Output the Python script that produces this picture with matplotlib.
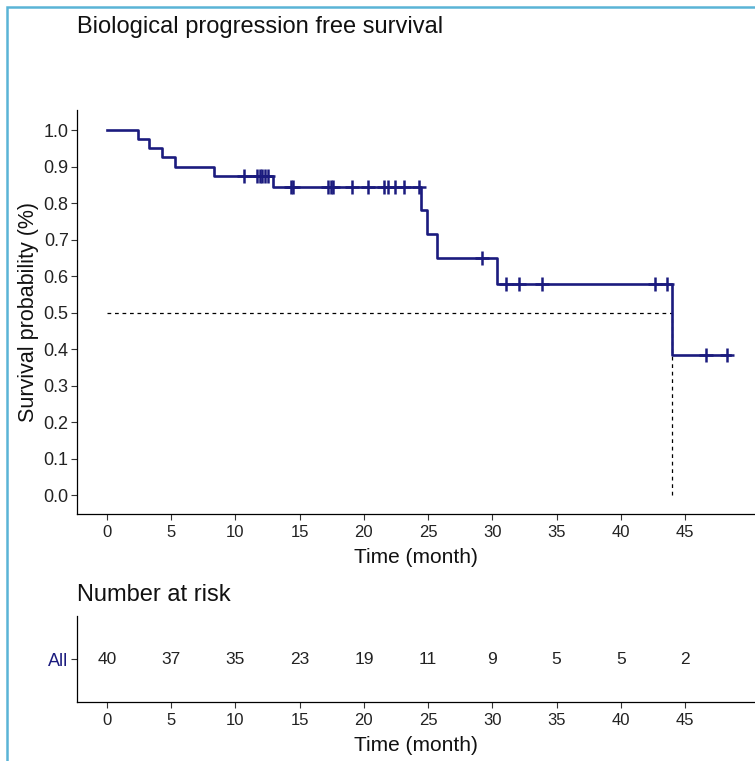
import numpy as np
import matplotlib.pyplot as plt
from matplotlib.patches import Rectangle

plt.rcParams['font.family'] = ['Liberation Sans', 'DejaVu Sans']

# step function of the KM curve (time in months, survival after the step)
step_times = [0, 2.4, 3.3, 4.3, 5.3, 8.3, 12.9, 24.45, 24.9, 25.7, 30.4, 44.0]
step_surv = [1.0, 0.975, 0.95, 0.925, 0.90, 0.875, 0.845, 0.78, 0.715, 0.65, 0.578, 0.385]
end_time = 48.5

# censored observations
censor_times = [10.7, 11.7, 11.9, 12.1, 12.3, 12.5, 14.3, 14.5,
                17.2, 17.4, 17.6, 19.1, 20.3, 21.6, 21.9, 22.4, 23.1, 24.3,
                29.2, 31.1, 32.1, 33.9, 42.7, 43.6, 46.6, 48.3]

median_time = 44.0

# number at risk table
risk_times = [0, 5, 10, 15, 20, 25, 30, 35, 40, 45]
risk_all = [40, 37, 35, 23, 19, 11, 9, 5, 5, 2]

navy = '#1b1b7e'
txt = '#222222'
W, H = 755, 761
fig = plt.figure(figsize=(W / 100, H / 100), dpi=100)

def fx(px):
    return px / W

def fy(py):
    return 1 - py / H

xlim = (-2.34, 50.45)

# main survival plot
ax = fig.add_axes([fx(77), fy(514), fx(755 - 77), fy(110) - fy(514)])
xs = list(step_times) + [end_time]
ys = list(step_surv) + [step_surv[-1]]
ax.step(xs, ys, where='post', color=navy, lw=1.9, zorder=3)
idx = np.searchsorted(step_times, censor_times, side='right') - 1
ax.plot(censor_times, np.array(step_surv)[idx], ls='none', marker='+',
        ms=10, mew=1.8, color=navy, zorder=4)
ax.plot([0, median_time], [0.5, 0.5], ls=(0, (3, 3)), color='black', lw=0.9)
ax.plot([median_time, median_time], [0, 0.5], ls=(0, (3, 3)), color='black', lw=0.9)

ax.set_xlim(*xlim)
ax.set_ylim(-0.052, 1.055)
ax.set_yticks(np.arange(0, 1.01, 0.1))
ax.set_yticklabels([f'{v:.1f}' for v in np.arange(0, 1.01, 0.1)])
ax.set_xticks(risk_times)
ax.set_xlabel('Time (month)', fontsize=15, labelpad=6, color='#111111')
ax.set_ylabel('Survival probability (%)', fontsize=15.5, labelpad=3, color='#111111')
ax.spines['top'].set_visible(False)
ax.spines['right'].set_visible(False)

# risk table
rt = fig.add_axes([fx(77), fy(702), fx(755 - 77), fy(616) - fy(702)])
for t, n in zip(risk_times, risk_all):
    rt.text(t, 1, str(n), ha='center', va='center', fontsize=12.5, color=txt)
rt.set_xlim(*xlim)
rt.set_ylim(0.5, 1.5)
rt.set_yticks([1])
rt.set_yticklabels(['All'])
rt.set_xticks(risk_times)
rt.set_xlabel('Time (month)', fontsize=15, labelpad=6, color='#111111')
rt.spines['top'].set_visible(False)
rt.spines['right'].set_visible(False)

for a in [ax, rt]:
    a.tick_params(axis='x', labelsize=12, length=4, width=0.8,
                  color='#333333', labelcolor=txt, pad=4)
    a.tick_params(axis='y', labelsize=13, length=4, width=0.8,
                  color='#333333', labelcolor=txt, pad=2)
    for s in ['left', 'bottom']:
        a.spines[s].set_linewidth(0.9)
rt.get_yticklabels()[0].set_color(navy)

fig.text(fx(77), fy(27), 'Biological progression free survival', fontsize=17,
         ha='left', va='center', color='#111111')
fig.text(fx(77), fy(595), 'Number at risk', fontsize=17,
         ha='left', va='center', color='#111111')

# light blue frame of the screenshot
fig.patches.append(Rectangle((fx(7), -0.1), 1.2, fy(7) + 0.1, transform=fig.transFigure,
                             fill=False, edgecolor='#5ab4d6', lw=1.8))

fig.savefig('out.png', dpi=100)
